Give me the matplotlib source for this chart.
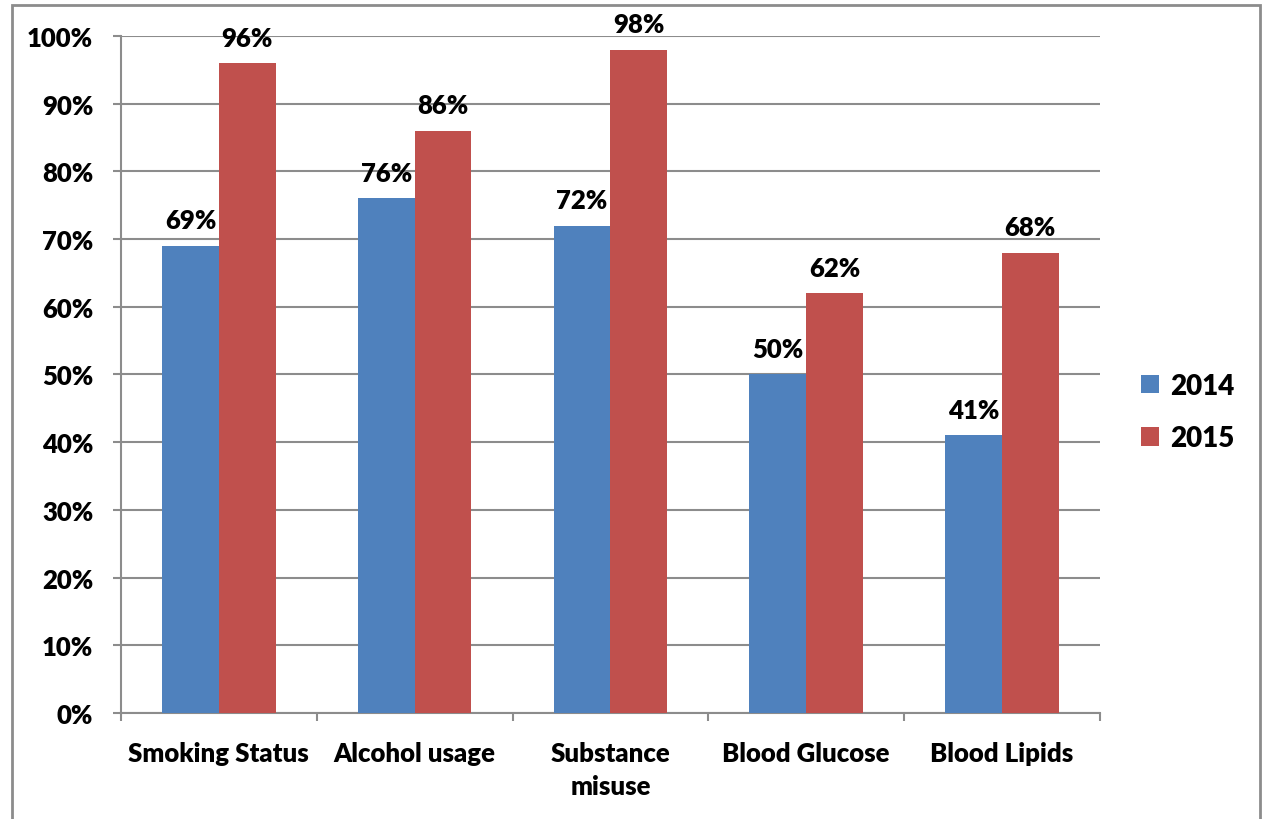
import matplotlib
matplotlib.use("Agg")
import matplotlib.pyplot as plt
from matplotlib.patches import Rectangle
import numpy as np

categories = ["Smoking Status", "Alcohol usage", "Substance\nmisuse", "Blood Glucose", "Blood Lipids"]
series_names = ["2014", "2015"]
values_2014 = [69, 76, 72, 50, 41]
values_2015 = [96, 86, 98, 62, 68]
colors = ["#4F81BD", "#C0504D"]
yticks = [0, 10, 20, 30, 40, 50, 60, 70, 80, 90, 100]

FW = "heavy"
plt.rcParams["font.family"] = ["Lato", "DejaVu Sans"]
plt.rcParams["font.weight"] = FW

fig = plt.figure(figsize=(12.67, 8.2), dpi=100)
ax = fig.add_axes([0.0955, 0.1293, 0.7725, 0.8256])

# outer chart frame
fig.patches.append(Rectangle((12 / 1267, -0.05), (1260 - 12) / 1267, 1 - 6 / 820 + 0.05,
                             transform=fig.transFigure, fill=False,
                             edgecolor="#8c8c8c", linewidth=2, zorder=0))

x = np.arange(len(categories))
w = 0.29
grid_c = "#8c8c8c"

for i, (vals, name, c) in enumerate(zip([values_2014, values_2015], series_names, colors)):
    pos = x + (i - 0.5) * w
    ax.bar(pos, vals, width=w, color=c, label=name, zorder=3)
    for px, v in zip(pos, vals):
        ax.text(px, v + 2.0, f"{v}%", ha="center", va="bottom",
                fontsize=18.5, fontweight=FW, color="black", zorder=4)

ax.set_xlim(-0.5, len(categories) - 0.5)
ax.set_ylim(0, 100)
ax.set_yticks(yticks)
ax.set_yticklabels([f"{t}%" for t in yticks])
ax.yaxis.grid(True, color=grid_c, linewidth=1.5, zorder=0)
ax.set_axisbelow(True)

ax.set_xticks(x)
ax.set_xticklabels(categories, linespacing=1.45)
ax.tick_params(axis="x", length=0, pad=20, labelsize=18.5)
ax.set_xticks(np.arange(-0.5, len(categories) + 0.5, 1), minor=True)
ax.tick_params(axis="x", which="minor", length=6, width=1.5, color=grid_c, direction="out")
ax.tick_params(axis="y", length=6, width=1.5, color=grid_c, pad=14, labelsize=18.5)

for s in ["top", "right"]:
    ax.spines[s].set_visible(False)
for s in ["left", "bottom"]:
    ax.spines[s].set_color(grid_c)
    ax.spines[s].set_linewidth(1.5)

for lbl in ax.get_xticklabels() + ax.get_yticklabels():
    lbl.set_fontweight(FW)

leg = fig.legend(loc="center left", bbox_to_anchor=(1116 / 1267, 1 - 413 / 820),
                 frameon=False, fontsize=20, handlelength=0.65, handleheight=0.65,
                 labelspacing=0.95, handletextpad=0.4)
for t in leg.get_texts():
    t.set_fontweight(FW)

fig.savefig("out.png", dpi=100)
